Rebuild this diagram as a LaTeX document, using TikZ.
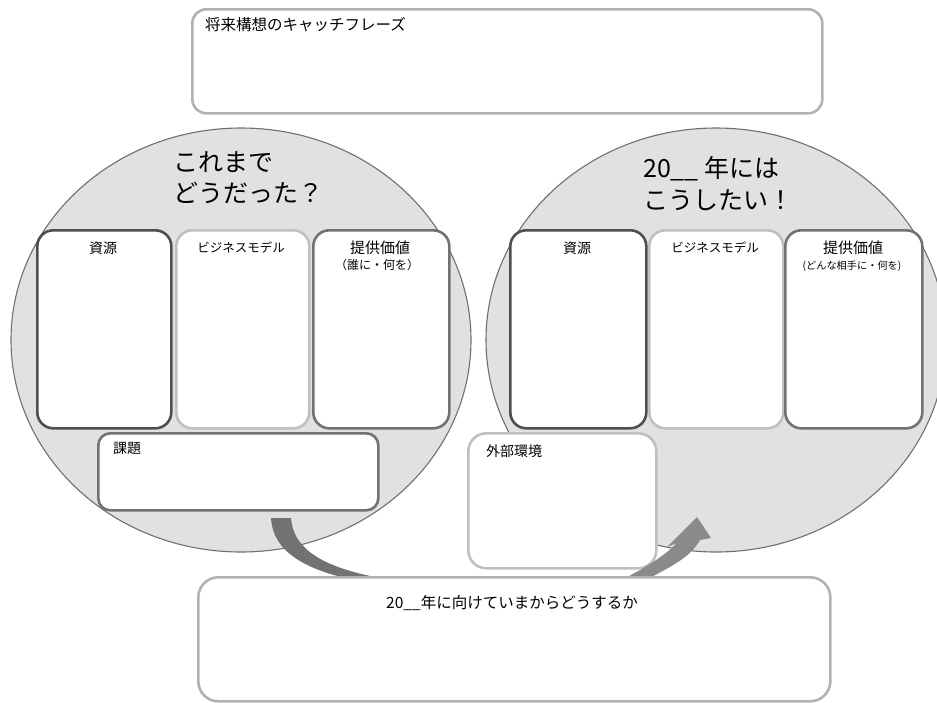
\documentclass[tikz,border=0pt]{standalone}
\usepackage{fontspec}
\setmainfont{Noto Sans CJK JP}
\usetikzlibrary{shapes.geometric}
\definecolor{cFill}{HTML}{E1E1E1}
\definecolor{cBorder}{HTML}{707070}
\definecolor{cDark}{HTML}{4F4F4F}
\definecolor{cMid}{HTML}{727272}
\definecolor{cLight}{HTML}{C0C0C0}
\definecolor{cFrame}{HTML}{B2B2B2}
\definecolor{cArrL}{HTML}{727272}
\definecolor{cArrR}{HTML}{8A8A8A}
\begin{document}
\begin{tikzpicture}[x=1pt,y=-1pt,
  circ/.style={ellipse,draw=cBorder,fill=cFill,line width=1.1pt,inner sep=0pt},
  card/.style={fill=white,rounded corners=16pt,line width=2.6pt,anchor=north west,inner sep=0pt},
  lbl/.style={inner sep=0pt,text=black,font=\fontsize{13.5}{16}\selectfont},
  head/.style={inner sep=0pt,anchor=west,text=black,font=\fontsize{25}{30}\selectfont}
]
\useasboundingbox (0,0) rectangle (937,702);
\clip (0,0) rectangle (937,702);

% top box
\node[card,draw=cFrame,rounded corners=14pt,minimum width=630,minimum height=104] (top) at (191,8) {};
\node[lbl,anchor=west,font=\fontsize{15.5}{18}\selectfont] (topt) at (205,25) {将来構想のキャッチフレーズ};

% circles
\node[circ,minimum width=460,minimum height=424] (cL) at (241,340) {};
\node[circ,minimum width=460,minimum height=424] (cR) at (716,340) {};

% headings
\node[head] (hL1) at (173,162) {これまで};
\node[head] (hL2) at (173,193) {どうだった？};
\node[head] (hR1) at (643,169) {20\_\_ 年には};
\node[head] (hR2) at (643,200) {こうしたい！};

% left boxes
\node[card,draw=cDark,minimum width=134,minimum height=198] (resL) at (36,229) {};
\node[card,draw=cLight,minimum width=133,minimum height=198] (bizL) at (175,229) {};
\node[card,draw=cMid,minimum width=136,minimum height=198] (valL) at (312,229) {};
\node[lbl,font=\fontsize{14}{16}\selectfont] (resLt) at (103,248) {資源};
\node[lbl,font=\fontsize{12.5}{15}\selectfont] (bizLt) at (241,248) {ビジネスモデル};
\node[lbl,font=\fontsize{15}{17}\selectfont] (valLt) at (380,248) {提供価値};
\node[lbl,font=\fontsize{12}{14}\selectfont] (valLs) at (377,265) {（誰に・何を）};

% right boxes
\node[card,draw=cDark,minimum width=136,minimum height=198] (resR) at (509,229) {};
\node[card,draw=cLight,minimum width=134,minimum height=198] (bizR) at (648,229) {};
\node[card,draw=cMid,minimum width=137,minimum height=198] (valR) at (784,229) {};
\node[lbl,font=\fontsize{14}{16}\selectfont] (resRt) at (577,248) {資源};
\node[lbl,font=\fontsize{12.5}{15}\selectfont] (bizRt) at (715,248) {ビジネスモデル};
\node[lbl,font=\fontsize{15}{17}\selectfont] (valRt) at (853,248) {提供価値};
\node[lbl,font=\fontsize{10.2}{12}\selectfont] (valRs) at (852,266) {(どんな相手に・何を)};

% issue / environment
\node[card,draw=cMid,minimum width=280,minimum height=77,rounded corners=12pt] (issue) at (97,432) {};
\node[lbl,anchor=west,font=\fontsize{14}{16}\selectfont] (issuet) at (113,448) {課題};
\node[card,draw=cLight,minimum width=188,minimum height=135,rounded corners=18pt] (env) at (467,432) {};
\node[lbl,anchor=west,font=\fontsize{14}{16}\selectfont] (envt) at (486,451) {外部環境};

% U-turn arrow, tapering, passing behind the bottom box
\fill[cArrL] (271,518) -- (291,518) .. controls (293,545) and (315,565) .. (375,577)
   -- (370,583) .. controls (305,572) and (273,552) .. (271,518) -- cycle;
\fill[cArrR] (620,581) .. controls (640,570) and (660,560) .. (677,543)
   -- (667,547) -- (697,517) -- (711,538) -- (700,540)
   .. controls (690,558) and (670,567) .. (644,581) -- cycle;

% bottom box
\node[card,draw=cFrame,rounded corners=20pt,minimum width=632,minimum height=124] (bot) at (197,576) {};
\node[lbl,font=\fontsize{15.5}{18}\selectfont] (bott) at (512,603) {20\_\_年に向けていまからどうするか};
\end{tikzpicture}
\end{document}
